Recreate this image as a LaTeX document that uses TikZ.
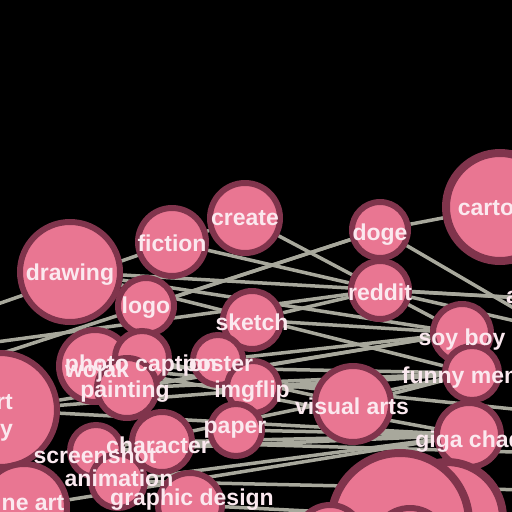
\documentclass[tikz,border=0pt]{standalone}
\usepackage{fontspec}
\setmainfont{Liberation Sans}
\usetikzlibrary{backgrounds}
\definecolor{nightbg}{HTML}{000000}
\definecolor{bubblefill}{HTML}{E97692}
\definecolor{bubbleedge}{HTML}{80344C}
\definecolor{linkgray}{HTML}{A8A89C}
\definecolor{labelwhite}{HTML}{FBE9EF}
\tikzset{
  bubble/.style={circle, draw=bubbleedge, fill=bubblefill, line width=6pt, inner sep=0pt},
  tag/.style={text=labelwhite, font=\fontsize{23}{27}\selectfont\bfseries, inner sep=0pt},
  link/.style={draw=linkgray, line width=3.5pt}
}
% circle of outer radius #4 at (#2,#3)
\newcommand{\bubbleat}[4]{%
  \node[bubble, minimum size={2*(#4)-6}] (#1) at (#2,#3) {};}
\newcommand{\bubbletag}[4]{%
  \node[tag] (#1-t) at (#2,#3) {#4};}

\begin{document}
\begin{tikzpicture}[x=1pt, y=-1pt]
  \useasboundingbox (0,0) rectangle (512,512);

  % bubbles
  \bubbleat{arthist}{0}{410}{60}
  \bubbleat{fineart}{24}{507}{46}
  \bubbleat{drawing}{70}{272}{53}
  \bubbleat{fiction}{172}{242}{37}
  \bubbleat{create}{245}{218}{38}
  \bubbleat{logo}{146}{306}{31}
  \bubbleat{sketch}{252}{320}{32}
  \bubbleat{doge}{380}{230}{31}
  \bubbleat{reddit}{380}{290}{32}
  \node[bubble, line width=8pt, minimum size=108] (cartoon) at (500,207) {};
  \bubbleat{aesth}{560}{300}{26}
  \bubbleat{soyboy}{462}{333}{32}
  \bubbleat{funny}{472}{373}{30}
  \bubbleat{giga}{469}{435}{35}
  \bubbleat{visual}{353}{404}{41}
  \node[bubble, line width=8pt, minimum size=112] (bigC) at (447,518) {};
  \node[bubble, line width=8pt, minimum size=138] (bigB) at (400,522) {};
  \bubbleat{smallA}{330}{538}{36}
  \bubbleat{smallB}{410}{545}{40}
  \bubbleat{wojak}{95}{366}{39}
  \bubbleat{photocap}{142}{358}{30}
  \bubbleat{painting}{127}{388}{33}
  \bubbleat{poster}{218}{360}{28}
  \bubbleat{imgflip}{253}{387}{29}
  \bubbleat{paper}{236}{430}{29}
  \bubbleat{screenshot}{96}{451}{29}
  \bubbleat{character}{162}{442}{33}
  \bubbleat{animation}{118}{481}{30}
  \bubbleat{graphic}{190}{505}{35}

  % loose ends off the page
  \coordinate (west1) at (-100,338);
  \coordinate (west2) at (-100,355);
  \coordinate (west3) at (-80,380);
  \coordinate (east1) at (620,370);
  \coordinate (east2) at (620,455);
  \coordinate (east3) at (620,492);
  \coordinate (east4) at (620,420);
  \coordinate (east5) at (620,345);

  % links, under the bubbles
  \begin{pgfonlayer}{background}
    \fill[nightbg] (0,0) rectangle (512,512);
    \draw[link] (west1) -- (create);
    \draw[link] (west2) -- (reddit);
    \draw[link] (west3) -- (doge);
    \draw[link] (logo) -- (doge);
    \draw[link] (fiction) -- (reddit);
    \draw[link] (create) -- (soyboy);
    \draw[link] (doge) -- (cartoon);
    \draw[link] (doge) -- (east1);
    \draw[link] (reddit) -- (aesth);
    \draw[link] (reddit) -- (east5);
    \draw[link] (sketch) -- (reddit);
    \draw[link] (sketch) -- (soyboy);
    \draw[link] (drawing) -- (aesth);
    \draw[link] (drawing) -- (soyboy);
    \draw[link] (drawing) -- (funny);
    \draw[link] (arthist) -- (funny);
    \draw[link] (arthist) -- (giga);
    \draw[link] (arthist) -- (soyboy);
    \draw[link] (wojak) -- (funny);
    \draw[link] (wojak) -- (giga);
    \draw[link] (wojak) -- (east4);
    \draw[link] (painting) -- (funny);
    \draw[link] (painting) -- (soyboy);
    \draw[link] (photocap) -- (visual);
    \draw[link] (poster) -- (soyboy);
    \draw[link] (imgflip) -- (funny);
    \draw[link] (paper) -- (giga);
    \draw[link] (screenshot) -- (giga);
    \draw[link] (screenshot) -- (funny);
    \draw[link] (character) -- (giga);
    \draw[link] (character) -- (east2);
    \draw[link] (animation) -- (east3);
    \draw[link] (animation) -- (giga);
    \draw[link] (fineart) -- (giga);
    \draw[link] (graphic) -- (bigC);
    \draw[link] (visual) -- (funny);
  \end{pgfonlayer}

  % labels
  \node[tag, align=right, anchor=east] (arthist-t) at (13,418) {art\\history};
  \bubbletag{fineart}{26}{502}{fine art}
  \bubbletag{drawing}{70}{275}{drawing}
  \bubbletag{fiction}{172}{243}{fiction}
  \bubbletag{create}{245}{218}{create}
  \bubbletag{logo}{146}{308}{logo}
  \bubbletag{sketch}{252}{322}{sketch}
  \bubbletag{doge}{380}{235}{doge}
  \bubbletag{reddit}{380}{292}{reddit}
  \bubbletag{cartoon}{500}{208}{cartoon}
  \bubbletag{aesth}{556}{295}{aesthetic}
  \bubbletag{soyboy}{462}{340}{soy boy}
  \bubbletag{funny}{476}{378}{funny memes}
  \bubbletag{giga}{469}{442}{giga chad}
  \bubbletag{visual}{352}{406}{visual arts}
  \bubbletag{wojak}{97}{372}{wojak}
  \bubbletag{photocap}{141}{366}{photo caption}
  \bubbletag{painting}{125}{392}{painting}
  \bubbletag{poster}{218}{366}{poster}
  \bubbletag{imgflip}{252}{392}{imgflip}
  \bubbletag{paper}{235}{430}{paper}
  \bubbletag{character}{158}{445}{character}
  \bubbletag{screenshot}{95}{455}{screenshot}
  \bubbletag{animation}{119}{478}{animation}
  \bubbletag{graphic}{192}{500}{graphic design}
\end{tikzpicture}
\end{document}
